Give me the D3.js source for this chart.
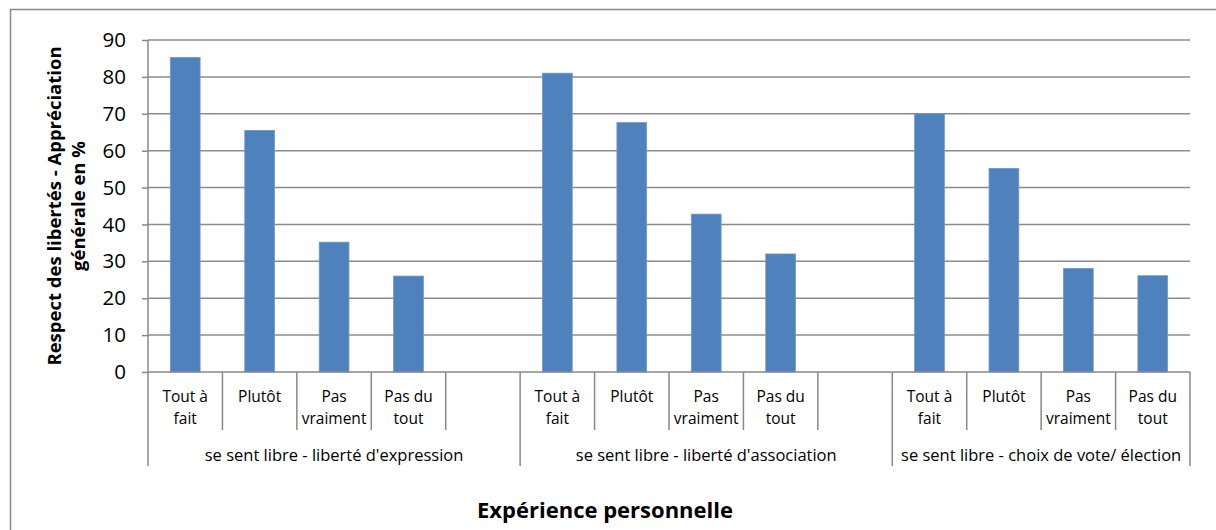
<!DOCTYPE html>
<html><head><meta charset="utf-8">
<script src="https://cdn.jsdelivr.net/npm/d3@7"></script>
<style>body{margin:0;background:#fff}svg{display:block}text{font-family:"Open Sans",Lato,sans-serif;fill:#000}</style>
</head><body><svg id="c" width="1216" height="530"></svg>
<script>
const groups = ["se sent libre - liberté d'expression", "se sent libre - liberté d'association", "se sent libre - choix de vote/ élection"];
const categories = [["Tout à","fait"],["Plutôt"],["Pas","vraiment"],["Pas du","tout"]];
const valuesExpression = [85.3, 65.5, 35.2, 26.0];
const valuesAssociation = [81.0, 67.6, 42.8, 32.0];
const valuesVote = [70.0, 55.2, 28.1, 26.1];
const emptySlots = [1, 1, 0];
const yTicks = [0,10,20,30,40,50,60,70,80,90];
const yTitle = ["Respect des libertés - Appréciation", "générale en %"];
const xTitle = "Expérience personnelle";

const allValues = [valuesExpression, valuesAssociation, valuesVote];
const slots = [];
groups.forEach((g, gi) => {
  categories.forEach((c, ci) => slots.push({key: gi + "-" + ci, g: gi, label: c, value: allValues[gi][ci]}));
  for (let e = 0; e < emptySlots[gi]; e++) slots.push({key: gi + "-e" + e, g: gi, label: [], value: null});
});

const svg = d3.select("#c");
const L = 148, R = 1190, T = 40, B = 372;
svg.append("rect").attr("x",10.5).attr("y",9.5).attr("width",1220).attr("height",540).attr("fill","none").attr("stroke","#888").attr("stroke-width",1.5);

const x = d3.scaleBand().domain(slots.map(d => d.key)).range([L, R]).padding(0);
const y = d3.scaleLinear().domain([0, 90]).range([B, T]);

// gridlines
svg.append("g").selectAll("line").data(yTicks.filter(t => t > 0)).join("line")
  .attr("x1", L).attr("x2", R).attr("y1", d => y(d)).attr("y2", d => y(d))
  .attr("stroke", "#8c8c8c").attr("stroke-width", 1.5);

// bars
const bw = x.bandwidth() * 0.4;
svg.append("g").selectAll("rect").data(slots.filter(d => d.value !== null)).join("rect")
  .attr("x", d => x(d.key) + (x.bandwidth() - bw) / 2).attr("width", bw)
  .attr("y", d => y(d.value)).attr("height", d => y(0) - y(d.value))
  .attr("fill", "#4f81bd").attr("stroke", "#6f99cc").attr("stroke-width", 0.8);

// y axis
const ya = svg.append("g").attr("transform", `translate(${L},0)`)
  .call(d3.axisLeft(y).tickValues(yTicks).tickSize(6).tickPadding(16));
ya.select(".domain").remove();
ya.selectAll("line").attr("stroke", "#888").attr("stroke-width", 1.5);
ya.selectAll("text").attr("font-size", 20.5).attr("font-family", "'Open Sans', sans-serif").attr("fill", "#000");
svg.append("line").attr("x1", L).attr("x2", L).attr("y1", T).attr("y2", 466).attr("stroke", "#888").attr("stroke-width", 1.5);
// x baseline
svg.append("line").attr("x1", L).attr("x2", R).attr("y1", B).attr("y2", B).attr("stroke", "#888").attr("stroke-width", 1.5);

// category boundaries
const boundaries = [];
slots.forEach((d, i) => {
  const isGroupEnd = (i === slots.length - 1) || slots[i + 1].g !== d.g;
  boundaries.push({x: x(d.key) + x.bandwidth(), group: isGroupEnd});
});
svg.append("g").selectAll("line").data(boundaries).join("line")
  .attr("x1", d => d.x).attr("x2", d => d.x).attr("y1", B).attr("y2", d => d.group ? 466 : 430)
  .attr("stroke", "#888").attr("stroke-width", 1.5);

// category labels
const cl = svg.append("g").selectAll("text").data(slots.filter(d => d.label.length)).join("text")
  .attr("x", d => x(d.key) + x.bandwidth() / 2).attr("text-anchor", "middle").attr("font-size", 15.5);
cl.selectAll("tspan").data(d => d.label.map((t, i) => ({t, i, xx: x(d.key) + x.bandwidth() / 2}))).join("tspan")
  .attr("x", d => d.xx).attr("y", d => 402 + d.i * 22).text(d => d.t);

// group labels
svg.append("g").selectAll("text").data(groups).join("text")
  .attr("x", (g, gi) => {
    const s = slots.filter(d => d.g === gi);
    return (x(s[0].key) + x(s[s.length - 1].key) + x.bandwidth()) / 2;
  })
  .attr("y", 461).attr("text-anchor", "middle").attr("font-size", 16.5).text(d => d);

// titles
const yt = svg.append("text").attr("transform", "translate(61,206) rotate(-90)").attr("text-anchor", "middle")
  .attr("font-size", 18.5).attr("font-weight", "bold");
yt.selectAll("tspan").data(yTitle).join("tspan").attr("x", 0).attr("dy", (d, i) => i ? 24 : 0).text(d => d);
svg.append("text").attr("x", 605).attr("y", 518).attr("text-anchor", "middle").attr("font-size", 22).attr("font-weight", "bold").text(xTitle);
</script></body></html>
